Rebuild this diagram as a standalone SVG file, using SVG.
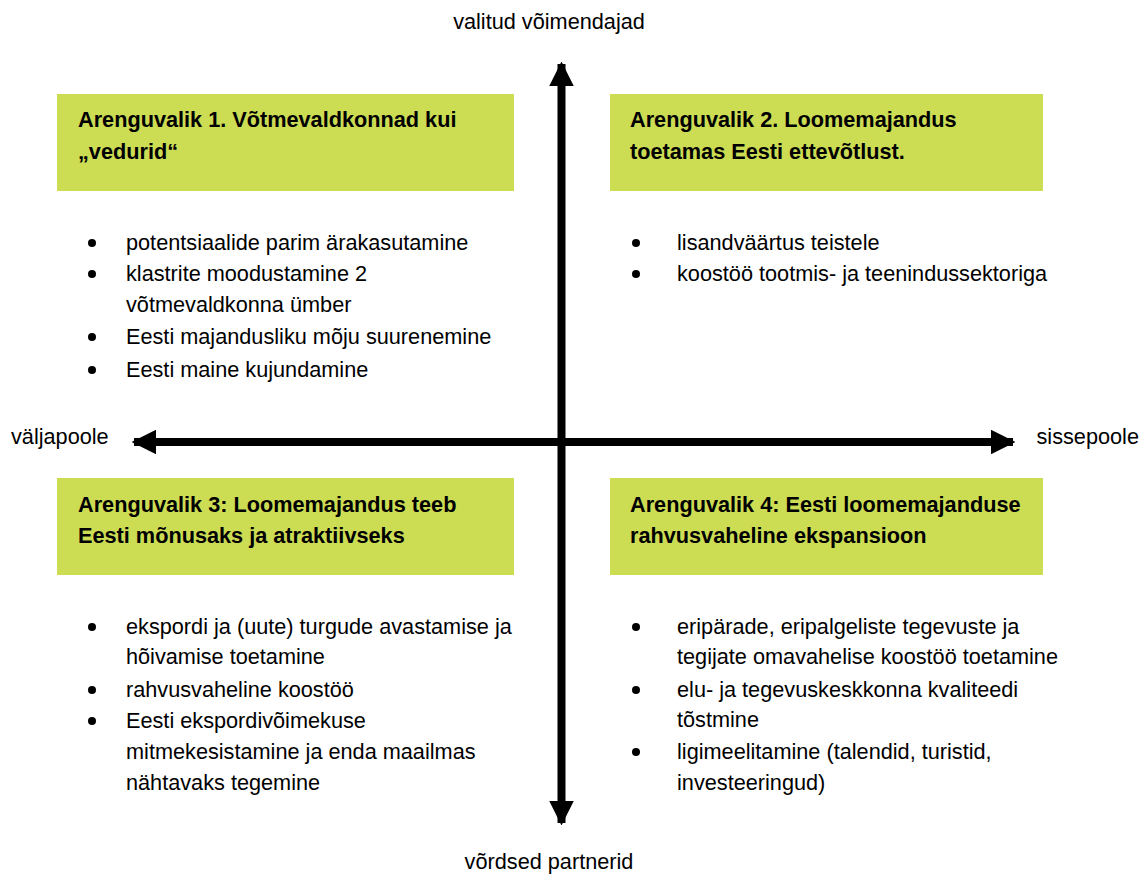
<svg xmlns="http://www.w3.org/2000/svg" width="1141" height="874" viewBox="0 0 1141 874">
<style>
text{font-family:"Liberation Sans",Arial,sans-serif;fill:#000;font-size:21.7px}
.t{font-weight:bold}
.box{fill:#ccdc53}
.ax{stroke:#000;stroke-width:8;fill:none}
.dot{fill:#000}
</style>
<defs>
<marker id="ah" viewBox="0 0 10 10" refX="9" refY="5" markerWidth="3.1" markerHeight="3.1" markerUnits="strokeWidth" orient="auto">
<path d="M0,0 L10,5 L0,10 Z" fill="#000"/>
</marker>
</defs>
<rect width="1141" height="874" fill="#fff"/>
<g id="axes">
<line class="ax" x1="561.5" y1="442" x2="561.5" y2="64" marker-end="url(#ah)"/>
<line class="ax" x1="561.5" y1="442" x2="561.5" y2="823" marker-end="url(#ah)"/>
<line class="ax" x1="561.5" y1="442" x2="134" y2="442" marker-end="url(#ah)"/>
<line class="ax" x1="561.5" y1="442" x2="1013" y2="442" marker-end="url(#ah)"/>
</g>
<g id="labels">
<text x="549" y="29" text-anchor="middle">valitud võimendajad</text>
<text x="549" y="869" text-anchor="middle">võrdsed partnerid</text>
<text x="11" y="444">väljapoole</text>
<text x="1139" y="444" text-anchor="end">sissepoole</text>
</g>
<g id="q1">
<rect class="box" x="57" y="94" width="457" height="97"/>
<text class="t" x="78" y="127">Arenguvalik 1. Võtmevaldkonnad kui</text>
<text class="t" x="78" y="159">„vedurid“</text>
<circle class="dot" cx="92" cy="243" r="4"/><text x="126" y="250">potentsiaalide parim ärakasutamine</text>
<circle class="dot" cx="92" cy="274" r="4"/><text x="126" y="281">klastrite moodustamine 2</text>
<text x="126" y="312">võtmevaldkonna ümber</text>
<circle class="dot" cx="92" cy="337" r="4"/><text x="126" y="344">Eesti majandusliku mõju suurenemine</text>
<circle class="dot" cx="92" cy="370" r="4"/><text x="126" y="377">Eesti maine kujundamine</text>
</g>
<g id="q2">
<rect class="box" x="610" y="94" width="433" height="97"/>
<text class="t" x="630" y="127">Arenguvalik 2. Loomemajandus</text>
<text class="t" x="630" y="159">toetamas Eesti ettevõtlust.</text>
<circle class="dot" cx="636" cy="243" r="4"/><text x="677" y="250">lisandväärtus teistele</text>
<circle class="dot" cx="636" cy="274" r="4"/><text x="677" y="281">koostöö tootmis- ja teenindussektoriga</text>
</g>
<g id="q3">
<rect class="box" x="57" y="478" width="457" height="97"/>
<text class="t" x="78" y="512">Arenguvalik 3: Loomemajandus teeb</text>
<text class="t" x="78" y="543">Eesti mõnusaks ja atraktiivseks</text>
<circle class="dot" cx="92" cy="627" r="4"/><text x="126" y="634">ekspordi ja (uute) turgude avastamise ja</text>
<text x="126" y="664">hõivamise toetamine</text>
<circle class="dot" cx="92" cy="690" r="4"/><text x="126" y="697">rahvusvaheline koostöö</text>
<circle class="dot" cx="92" cy="721" r="4"/><text x="126" y="728">Eesti ekspordivõimekuse</text>
<text x="126" y="759">mitmekesistamine ja enda maailmas</text>
<text x="126" y="790">nähtavaks tegemine</text>
</g>
<g id="q4">
<rect class="box" x="610" y="478" width="433" height="97"/>
<text class="t" x="630" y="512">Arenguvalik 4: Eesti loomemajanduse</text>
<text class="t" x="630" y="543">rahvusvaheline ekspansioon</text>
<circle class="dot" cx="636" cy="627" r="4"/><text x="677" y="634">eripärade, eripalgeliste tegevuste ja</text>
<text x="677" y="664">tegijate omavahelise koostöö toetamine</text>
<circle class="dot" cx="636" cy="690" r="4"/><text x="677" y="697">elu- ja tegevuskeskkonna kvaliteedi</text>
<text x="677" y="727">tõstmine</text>
<circle class="dot" cx="636" cy="752" r="4"/><text x="677" y="759">ligimeelitamine (talendid, turistid,</text>
<text x="677" y="790">investeeringud)</text>
</g>
</svg>
